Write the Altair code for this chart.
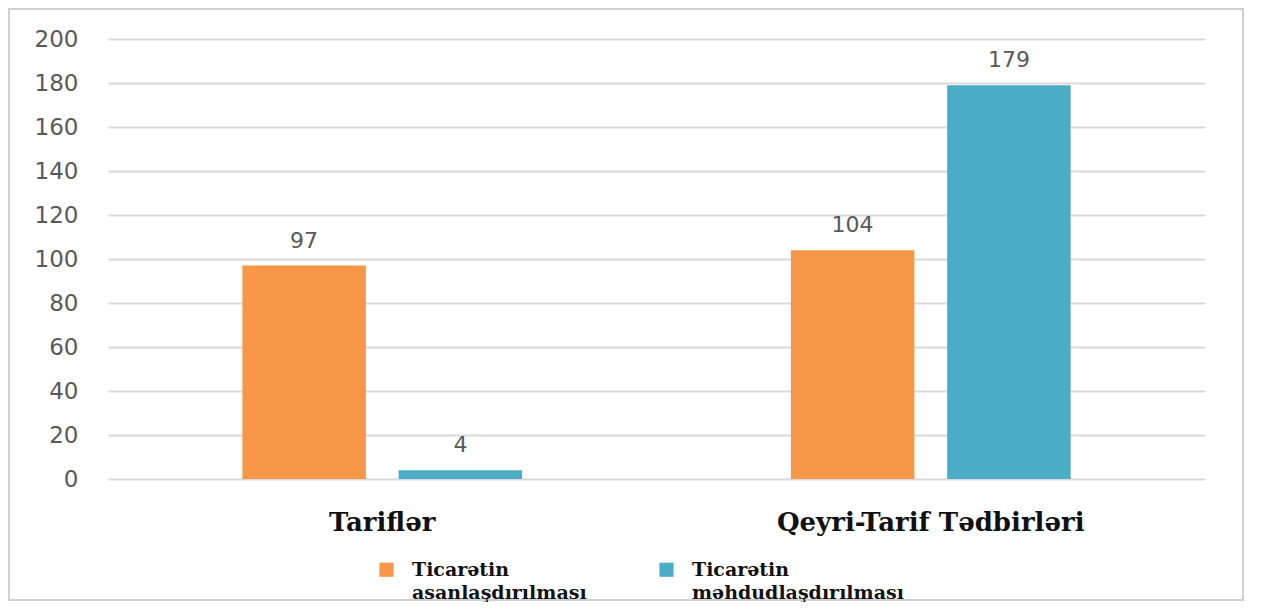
import altair as alt
import pandas as pd

categories = ["Tariflər", "Qeyri-Tarif Tədbirləri"]
series = ["Ticarətin asanlaşdırılması", "Ticarətin məhdudlaşdırılması"]
facilitation = [97, 104]
restriction = [4, 179]
y_ticks = [0, 20, 40, 60, 80, 100, 120, 140, 160, 180, 200]
colors = ["#F79646", "#4BACC6"]

rows = []
for i, c in enumerate(categories):
    rows.append({"category": c, "series": series[0], "value": facilitation[i]})
    rows.append({"category": c, "series": series[1], "value": restriction[i]})
df = pd.DataFrame(rows)

W, H = 1097, 440

x = alt.X("category:N", sort=categories, title=None,
          scale=alt.Scale(paddingInner=0, paddingOuter=0),
          axis=alt.Axis(labelAngle=0, ticks=False, domain=False, grid=False,
                        labelFont="DejaVu Serif", labelFontWeight="bold",
                        labelFontSize=26, labelColor="#111111", labelPadding=30,
                        labelLimit=600))
xo = alt.XOffset("series:N", sort=series,
                 scale=alt.Scale(paddingInner=0.21, paddingOuter=0.86))
y = alt.Y("value:Q", title=None,
          scale=alt.Scale(domain=[0, 200], nice=False),
          axis=alt.Axis(values=y_ticks, ticks=False, domain=False,
                        gridColor="#d9d9d9", gridWidth=2,
                        labelFont="DejaVu Sans", labelFontSize=23,
                        labelColor="#595959", labelPadding=30))
color = alt.Color("series:N", sort=series,
                  scale=alt.Scale(domain=series, range=colors),
                  legend=alt.Legend(title=None, orient="none", legendX=269, legendY=521,
                                    direction="horizontal", columns=2, columnPadding=70,
                                    symbolType="square", symbolSize=200, symbolStrokeWidth=0,
                                    symbolOpacity=1,
                                    labelFont="DejaVu Serif", labelFontWeight="bold",
                                    labelFontSize=19, labelColor="#111111", labelOffset=16,
                                    labelLimit=400,
                                    labelExpr="split(datum.label, ' ')"))

bars = alt.Chart(df).mark_bar().encode(x=x, xOffset=xo, y=y, color=color)
labels = alt.Chart(df).mark_text(baseline="bottom", dy=-13, font="DejaVu Sans",
                                 fontSize=22, color="#595959").encode(
    x=alt.X("category:N", sort=categories), xOffset=xo, y="value:Q", text="value:Q")

frame = alt.Chart(pd.DataFrame({"a": [0]})).mark_rect(
    filled=False, stroke="#d0d0d0", strokeWidth=2).encode(
    x=alt.value(-99), x2=alt.value(1135), y=alt.value(-30), y2=alt.value(561))

chart = alt.layer(frame, bars, labels).properties(
    width=W, height=H,
    background="white",
    autosize=alt.AutoSizeParams(type="none"),
    padding={"left": 100, "top": 31, "right": 45, "bottom": 123},
).configure(style={"guide-label": {"lineHeight": 23}}).configure_view(strokeWidth=0)

chart.save("out.html", embed_options={"renderer": "svg", "actions": False})
